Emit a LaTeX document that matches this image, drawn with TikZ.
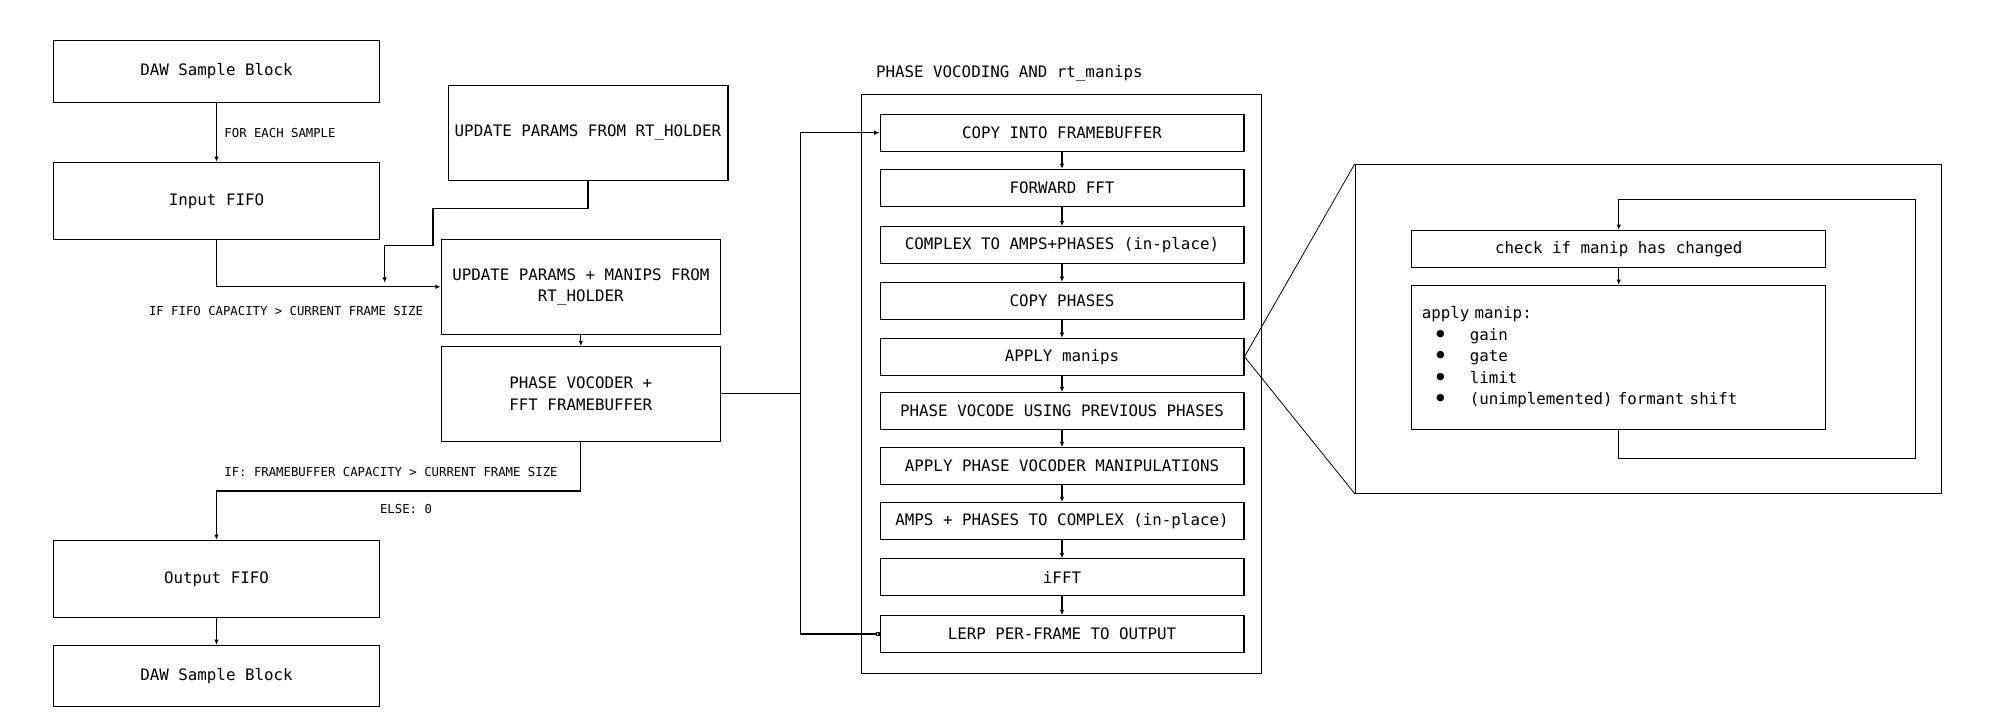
\documentclass[tikz,border=0pt]{standalone}
\usepackage{fontspec}
\setmainfont{DejaVu Sans Mono}[WordSpace={1,0,0}]
\usepackage{tikz}
\usetikzlibrary{positioning, calc, shapes, arrows, arrows.meta, fit}
\newcommand\boxfont{\fontsize{9}{12.3}\selectfont}
\newcommand\lblfont{\fontsize{7}{8.5}\selectfont}
\newcommand\manipitem{\makebox[0.96cm][l]{\hspace{0.22cm}\raisebox{-0.35ex}{\Large\textbullet}}}

\begin{document}
\begin{tikzpicture}[x=0.02cm, y=-0.02cm,
    box/.style={draw, line width=0.6pt, inner sep=0pt, font=\boxfont, align=center},
    daw/.style={box, minimum width=6.52cm, minimum height=1.23cm},
    fifo/.style={box, minimum width=6.52cm, minimum height=1.54cm},
    upd/.style={box, minimum width=5.59cm, minimum height=1.9cm},
    stage/.style={box, minimum width=7.28cm, minimum height=0.734cm},
    lbl/.style={font=\lblfont, inner sep=0pt},
    wire/.style={line width=0.6pt},
    conn/.style={wire, -{Latex[length=3pt,width=2.6pt]}}]
\useasboundingbox (0,0) rectangle (1999,720);

            % main signal path
            \node[daw] (daw_in) at (216.5,71.5) {DAW Sample Block};
            \node[fifo] (fifo_in) at (216.5,200.8) {Input FIFO};
            \node[upd, minimum width=5.6cm] (rt_upd) at (588,132.8) {UPDATE PARAMS FROM RT\_HOLDER};
            \node[upd] (upd_manips) at (580.8,286.8) {UPDATE PARAMS + MANIPS FROM\\RT\_HOLDER};
            \node[upd, minimum height=1.89cm] (pv) at (580.8,393.8) {PHASE VOCODER +\\FFT FRAMEBUFFER};
            \node[fifo] (fifo_out) at (216.5,578.8) {Output FIFO};
            \node[daw] (daw_out) at (216.5,676.2) {DAW Sample Block};

            \node[lbl] (lbl_each) at (280,132.7) {FOR EACH SAMPLE};
            \node[lbl] (lbl_fifo) at (286,311) {IF FIFO CAPACITY > CURRENT FRAME SIZE};
            \node[lbl] (lbl_fb) at (391,471.7) {IF: FRAMEBUFFER CAPACITY > CURRENT FRAME SIZE};
            \node[lbl] (lbl_else) at (406,509.3) {ELSE: 0};

            \coordinate (rt_end) at (384.7,282.7);
            \draw[conn] (daw_in) -- (fifo_in);
            \draw[conn] (fifo_in.south) |- (upd_manips.west);
            \draw[conn] (rt_upd.south) |- (433,208.3) |- (384.7,245.3) -- (rt_end);
            \draw[conn] (upd_manips) -- (pv);
            \draw[conn] (pv.south) |- (216.5,491) -- (fifo_out.north);
            \draw[conn] (fifo_out) -- (daw_out);

            % phase vocoding block
            \node[lbl, font=\boxfont, anchor=west] (pv_title) at (875.7,73.3) {PHASE VOCODING AND rt\_manips};
            \node[box, minimum width=8.01cm, minimum height=11.58cm] (pv_frame) at (1061.5,383.8) {};
            \node[stage] (copy_fb) at (1062,132.7) {COPY INTO FRAMEBUFFER};
            \node[stage] (fwd_fft) at (1062,187.7) {FORWARD FFT};
            \node[stage] (to_polar) at (1062,245) {COMPLEX TO AMPS+PHASES (in-place)};
            \node[stage] (copy_ph) at (1062,300.7) {COPY PHASES};
            \node[stage] (apply_manips) at (1062,356.7) {APPLY manips};
            \node[stage] (pv_prev) at (1062,411) {PHASE VOCODE USING PREVIOUS PHASES};
            \node[stage] (pv_manip) at (1062,466) {APPLY PHASE VOCODER MANIPULATIONS};
            \node[stage] (to_cplx) at (1062,521) {AMPS + PHASES TO COMPLEX (in-place)};
            \node[stage] (ifft) at (1062,577.2) {iFFT};
            \node[stage] (lerp) at (1062,634) {LERP PER-FRAME TO OUTPUT};

            \draw[conn] (copy_fb) -- (fwd_fft);
            \draw[conn] (fwd_fft) -- (to_polar);
            \draw[conn] (to_polar) -- (copy_ph);
            \draw[conn] (copy_ph) -- (apply_manips);
            \draw[conn] (apply_manips) -- (pv_prev);
            \draw[conn] (pv_prev) -- (pv_manip);
            \draw[conn] (pv_manip) -- (to_cplx);
            \draw[conn] (to_cplx) -- (ifft);
            \draw[conn] (ifft) -- (lerp);

            \coordinate (bus) at (800.7,393.8);
            \draw[wire] (pv.east) -- (bus);
            \draw[wire, {Square[open,length=2pt,width=2pt]}-{Latex[length=3pt,width=2.6pt]}] (lerp.west) -| (bus) |- (copy_fb.west);

            % zoom on manips
            \node[box, minimum width=11.72cm, minimum height=6.58cm] (zoom) at (1648.3,328.8) {};
            \draw[line width=0.45pt] (apply_manips.east) -- (zoom.north west);
            \draw[line width=0.45pt] (apply_manips.east) -- (zoom.south west);
            \node[box, minimum width=8.28cm, minimum height=0.74cm] (manip_check) at (1618.75,248.8) {check if manip has changed};
            \node[box, align=left, text width=7.88cm, inner xsep=0.2cm, minimum height=2.88cm] (manip_apply) at (1618.75,357.3)
                {apply manip:\\
                 \manipitem gain\\
                 \manipitem gate\\
                 \manipitem limit\\
                 \manipitem (unimplemented) formant shift};
            \coordinate (loop_corner) at (1915.2,199.3);
            \draw[conn] (manip_check) -- (manip_apply);
            \draw[conn] (manip_apply.south) -- ++(0,28.7) -| (loop_corner) -| (manip_check.north);
        \end{tikzpicture}
\end{document}
